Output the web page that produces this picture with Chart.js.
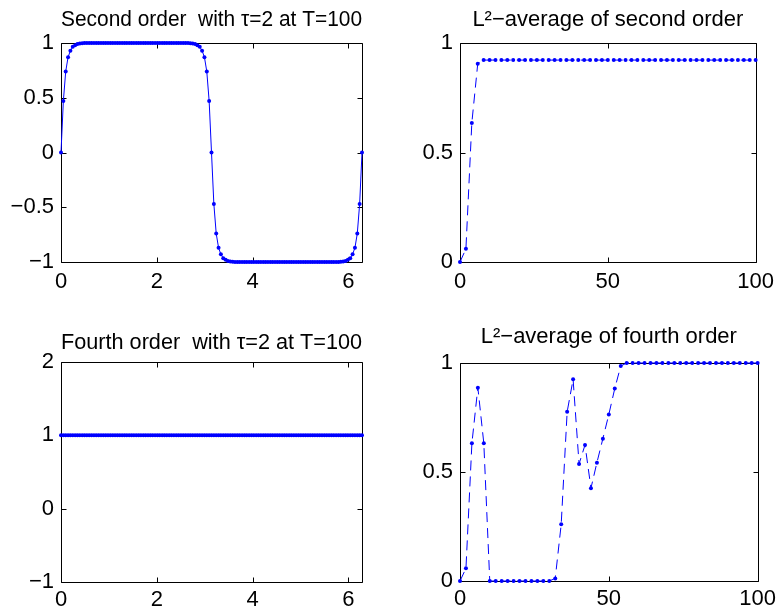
<!DOCTYPE html>
<html><head><meta charset="utf-8">
<script src="https://cdn.jsdelivr.net/npm/chart.js@4.4.1/dist/chart.umd.min.js"></script>
<style>
html,body{margin:0;padding:0;background:#fff;}
#wrap{position:relative;width:781px;height:614px;overflow:hidden;background:#fff;}
canvas{position:absolute;}
</style></head><body><div id="wrap">
<canvas id="c1" style="left:0px;top:0px;width:390px;height:300px" width="390" height="300"></canvas>
<canvas id="c2" style="left:390px;top:0px;width:391px;height:300px" width="391" height="300"></canvas>
<canvas id="c3" style="left:0px;top:300px;width:390px;height:314px" width="390" height="314"></canvas>
<canvas id="c4" style="left:390px;top:300px;width:391px;height:314px" width="391" height="314"></canvas>
</div>
<script>
// ---- data ----
const xGrid = [0,0.0491,0.0982,0.1473,0.1963,0.2454,0.2945,0.3436,0.3927,0.4418,
0.4909,0.5400,0.5890,0.6381,0.6872,0.7363,0.7854,0.8345,0.8836,0.9327,
0.9817,1.0308,1.0799,1.1290,1.1781,1.2272,1.2763,1.3254,1.3744,1.4235,
1.4726,1.5217,1.5708,1.6199,1.6690,1.7181,1.7671,1.8162,1.8653,1.9144,
1.9635,2.0126,2.0617,2.1108,2.1598,2.2089,2.2580,2.3071,2.3562,2.4053,
2.4544,2.5035,2.5525,2.6016,2.6507,2.6998,2.7489,2.7980,2.8471,2.8962,
2.9452,2.9943,3.0434,3.0925,3.1416,3.1907,3.2398,3.2889,3.3379,3.3870,
3.4361,3.4852,3.5343,3.5834,3.6325,3.6816,3.7306,3.7797,3.8288,3.8779,
3.9270,3.9761,4.0252,4.0743,4.1233,4.1724,4.2215,4.2706,4.3197,4.3688,
4.4179,4.4670,4.5160,4.5651,4.6142,4.6633,4.7124,4.7615,4.8106,4.8597,
4.9087,4.9578,5.0069,5.0560,5.1051,5.1542,5.2033,5.2524,5.3014,5.3505,
5.3996,5.4487,5.4978,5.5469,5.5960,5.6451,5.6941,5.7432,5.7923,5.8414,
5.8905,5.9396,5.9887,6.0377,6.0868,6.1359,6.1850,6.2341,6.2832];

const secondOrder = [0,0.47,0.74,0.87,0.93,0.965,0.98,0.99,0.995,0.998,
1,1,1,1,1,1,1,1,1,1,
1,1,1,1,1,1,1,1,1,1,
1,1,1,1,1,1,1,1,1,1,
1,1,1,1,1,1,1,1,1,1,
1,1,1,1,1,
0.998,0.995,0.99,0.98,0.965,0.93,0.87,0.74,0.47,0,
-0.47,-0.74,-0.87,-0.93,-0.965,-0.98,-0.99,-0.995,-0.998,
-1,-1,-1,-1,-1,-1,-1,-1,-1,-1,
-1,-1,-1,-1,-1,-1,-1,-1,-1,-1,
-1,-1,-1,-1,-1,-1,-1,-1,-1,-1,
-1,-1,-1,-1,-1,-1,-1,-1,-1,-1,
-1,-1,-1,-1,-1,
-0.998,-0.995,-0.99,-0.98,-0.965,-0.93,-0.87,-0.74,-0.47,0];

const fourthOrder = [1,1,1,1,1,1,1,1,1,1,1,1,1,1,1,1,1,1,1,1,
1,1,1,1,1,1,1,1,1,1,1,1,1,1,1,1,1,1,1,1,
1,1,1,1,1,1,1,1,1,1,1,1,1,1,1,1,1,1,1,1,
1,1,1,1,1,1,1,1,1,1,1,1,1,1,1,1,1,1,1,1,
1,1,1,1,1,1,1,1,1,1,1,1,1,1,1,1,1,1,1,1,
1,1,1,1,1,1,1,1,1,1,1,1,1,1,1,1,1,1,1,1,
1,1,1,1,1,1,1,1,1];

const timeSteps = [0,2,4,6,8,10,12,14,16,18,20,22,24,26,28,30,32,34,36,38,
40,42,44,46,48,50,52,54,56,58,60,62,64,66,68,70,72,74,76,78,
80,82,84,86,88,90,92,94,96,98,100];

const l2Second = [0,0.06,0.635,0.905,0.922,0.922,0.922,0.922,0.922,0.922,
0.922,0.922,0.922,0.922,0.922,0.922,0.922,0.922,0.922,0.922,
0.922,0.922,0.922,0.922,0.922,0.922,0.922,0.922,0.922,0.922,
0.922,0.922,0.922,0.922,0.922,0.922,0.922,0.922,0.922,0.922,
0.922,0.922,0.922,0.922,0.922,0.922,0.922,0.922,0.922,0.922,0.922];

const l2Fourth = [0,0.058,0.632,0.887,0.632,0,0,0,0,0,
0,0,0,0,0,0,0.012,0.26,0.776,0.925,
0.537,0.624,0.426,0.543,0.653,0.764,0.883,0.986,1,1,
1,1,1,1,1,1,1,1,1,1,
1,1,1,1,1,1,1,1,1,1,1];

const titles = ['Second order  with \u03c4=2 at T=100', 'L\u00b2\u2212average of second order',
                'Fourth order  with \u03c4=2 at T=100', 'L\u00b2\u2212average of fourth order'];

const xTicksSpace = [0,2,4,6];
const xLabelsSpace = ['0','2','4','6'];
const xTicksTime = [0,50,100];
const xLabelsTime = ['0','50','100'];
const yTicks1 = [-1,-0.5,0,0.5,1];
const yLabels1 = ['\u22121','\u22120.5','0','0.5','1'];
const yTicks3 = [-1,0,1,2];
const yLabels3 = ['\u22121','0','1','2'];
const yTicksL2 = [0,0.5,1];
const yLabelsL2 = ['0','0.5','1'];

// ---- drawing ----
const BLUE = '#0000ff';
const FONT = '"Liberation Sans", Arial, Helvetica, sans-serif';

const frame = {
  id: 'frame',
  beforeDatasetsDraw(chart) {
    const {ctx, chartArea: a, scales: {x, y}} = chart;
    const L = 5;
    ctx.save();
    ctx.strokeStyle = '#000';
    ctx.lineWidth = 1;
    ctx.beginPath();
    const l = Math.round(a.left) + 0.5, r = Math.round(a.right) + 0.5;
    const t = Math.round(a.top) + 0.5, b = Math.round(a.bottom) + 0.5;
    ctx.rect(l, t, r - l, b - t);
    x.ticks.forEach(tk => {
      const p = Math.round(x.getPixelForValue(tk.value)) + 0.5;
      ctx.moveTo(p, b); ctx.lineTo(p, b - L);
      ctx.moveTo(p, t); ctx.lineTo(p, t + L);
    });
    y.ticks.forEach(tk => {
      const p = Math.round(y.getPixelForValue(tk.value)) + 0.5;
      ctx.moveTo(l, p); ctx.lineTo(l + L, p);
      ctx.moveTo(r, p); ctx.lineTo(r - L, p);
    });
    ctx.stroke();
    ctx.restore();
  }
};

function makeChart(id, o) {
  const tickFont = {family: FONT, size: 22, weight: 'normal', lineHeight: 1.2};
  new Chart(document.getElementById(id), {
    type: 'line',
    data: {
      datasets: [{
        data: o.xs.map((v, i) => ({x: v, y: o.ys[i]})),
        borderColor: BLUE, backgroundColor: BLUE,
        borderWidth: 1, borderDash: o.dash,
        pointRadius: 2, pointBorderWidth: 0, pointHoverRadius: 2,
        tension: 0, clip: false
      }]
    },
    options: {
      responsive: false, animation: false, events: [],
      layout: {padding: {left: 0, right: o.padR, top: 0, bottom: 0}},
      plugins: {
        legend: {display: false}, tooltip: {enabled: false},
        title: {display: true, text: o.title, fullSize: false, color: '#000',
          font: {family: FONT, size: 22, weight: 'normal', lineHeight: 1.2},
          padding: {top: o.tTop, bottom: o.tBot}}
      },
      scales: {
        x: {
          type: 'linear', min: o.xmin, max: o.xmax,
          afterBuildTicks: s => { s.ticks = o.xt.map(v => ({value: v})); },
          afterFit: s => { s.height = o.xH; },
          ticks: {color: '#000', font: tickFont, padding: o.xPad, maxRotation: 0, autoSkip: false,
                  callback: (v, i) => o.xl[i]},
          grid: {display: false, drawTicks: false}, border: {display: false}
        },
        y: {
          type: 'linear', min: o.ymin, max: o.ymax,
          afterBuildTicks: s => { s.ticks = o.yt.map(v => ({value: v})); },
          afterFit: s => { s.width = o.yW; },
          ticks: {color: '#000', font: tickFont, padding: 7, autoSkip: false,
                  callback: (v, i) => o.yl[i]},
          grid: {display: false, drawTicks: false}, border: {display: false}
        }
      }
    },
    plugins: [frame]
  });
}

makeChart('c1', {xs: xGrid, ys: secondOrder, dash: [], title: titles[0],
  xmin: 0, xmax: 6.2832, xt: xTicksSpace, xl: xLabelsSpace,
  ymin: -1, ymax: 1, yt: yTicks1, yl: yLabels1,
  padR: 28, yW: 61, xH: 38, xPad: 7, tTop: 7, tBot: 9.6});
makeChart('c2', {xs: timeSteps, ys: l2Second, dash: [10, 6], title: titles[1],
  xmin: 0, xmax: 100, xt: xTicksTime, xl: xLabelsTime,
  ymin: 0, ymax: 1, yt: yTicksL2, yl: yLabelsL2,
  padR: 19, yW: 70, xH: 38, xPad: 7, tTop: 7, tBot: 9.6});
makeChart('c3', {xs: xGrid, ys: fourthOrder, dash: [], title: titles[2],
  xmin: 0, xmax: 6.2832, xt: xTicksSpace, xl: xLabelsSpace,
  ymin: -1, ymax: 2, yt: yTicks3, yl: yLabels3,
  padR: 28, yW: 61, xH: 32, xPad: 5, tTop: 30, tBot: 5.6});
makeChart('c4', {xs: timeSteps, ys: l2Fourth, dash: [10, 6], title: titles[3],
  xmin: 0, xmax: 100, xt: xTicksTime, xl: xLabelsTime,
  ymin: 0, ymax: 1, yt: yTicksL2, yl: yLabelsL2,
  padR: 19, yW: 70, xH: 33, xPad: 5, tTop: 24, tBot: 12.6});
</script>
</body></html>
